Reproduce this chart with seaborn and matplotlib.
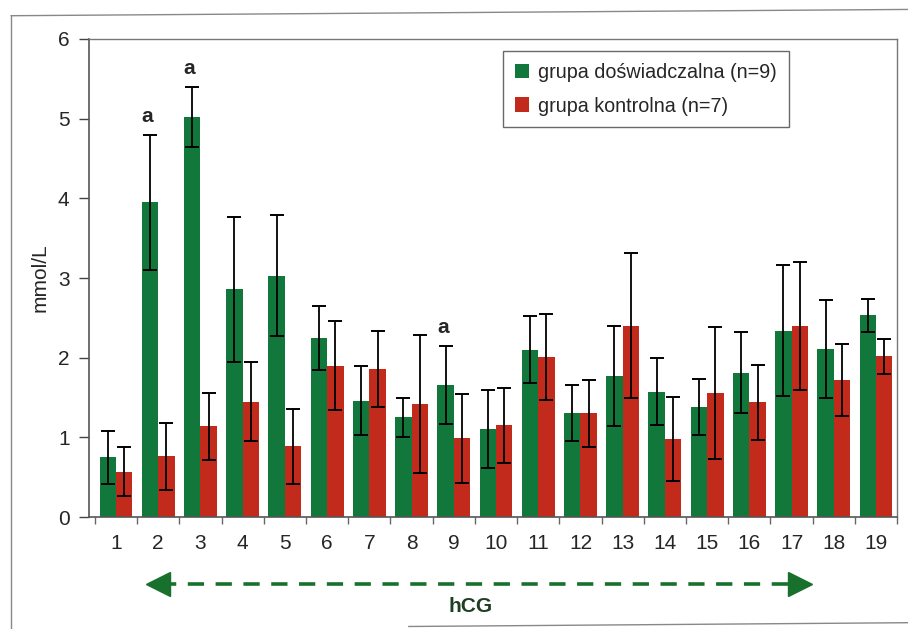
import numpy as np
import pandas as pd
import matplotlib
matplotlib.use("Agg")
import matplotlib.pyplot as plt
import matplotlib.transforms as mtransforms
from matplotlib.lines import Line2D
from matplotlib.patches import Patch
import seaborn as sns

# dane
punkty = [str(i) for i in range(1, 20)]
grupy = ["grupa doświadczalna (n=9)", "grupa kontrolna (n=7)"]
srednia_dosw = [0.75, 3.95, 5.02, 2.86, 3.03, 2.25, 1.46, 1.25, 1.66, 1.11,
                2.10, 1.31, 1.77, 1.57, 1.38, 1.81, 2.34, 2.11, 2.53]
sd_dosw = [0.33, 0.85, 0.38, 0.91, 0.76, 0.40, 0.43, 0.25, 0.49, 0.49,
           0.42, 0.35, 0.63, 0.42, 0.35, 0.51, 0.82, 0.61, 0.21]
srednia_kontr = [0.57, 0.76, 1.14, 1.45, 0.89, 1.90, 1.86, 1.42, 0.99, 1.15,
                 2.01, 1.30, 2.40, 0.98, 1.56, 1.44, 2.40, 1.72, 2.02]
sd_kontr = [0.31, 0.42, 0.42, 0.49, 0.47, 0.56, 0.48, 0.87, 0.56, 0.47,
            0.54, 0.42, 0.91, 0.53, 0.83, 0.47, 0.80, 0.45, 0.22]
istotne = [2, 3, 9]  # punkty oznaczone literą "a"
kolory = ["#12773a", "#c22a1c"]

df = pd.DataFrame({
    "punkt": punkty * 2,
    "grupa": [grupy[0]] * 19 + [grupy[1]] * 19,
    "wartosc": srednia_dosw + srednia_kontr,
})

sns.set_style("white")
plt.rcParams["font.family"] = ["Liberation Sans", "DejaVu Sans"]

fig = plt.figure(figsize=(9.08, 6.29), dpi=100)
ax = fig.add_axes([0.098, 0.178, 0.890, 0.76])

sns.barplot(data=df, x="punkt", y="wartosc", hue="grupa", order=punkty,
            hue_order=grupy, palette=kolory, saturation=1, width=0.78,
            errorbar=None, ax=ax, legend=False, linewidth=0)

# słupki błędów (SD) na środkach słupków
for kont, sd in zip(ax.containers, [sd_dosw, sd_kontr]):
    xs = [p.get_x() + p.get_width() / 2 for p in kont]
    hs = [p.get_height() for p in kont]
    ax.errorbar(xs, hs, yerr=sd, fmt="none", ecolor="black",
                elinewidth=1.3, capsize=5, capthick=1.4, zorder=3)

# litery "a"
bary = ax.containers[0]
for n in istotne:
    p = bary[n - 1]
    ax.annotate("a", (p.get_x() + p.get_width() / 2,
                      srednia_dosw[n - 1] + sd_dosw[n - 1]),
                xytext=(-2, 6), textcoords="offset points",
                ha="center", va="bottom", fontsize=15, fontweight="bold")

ax.set_ylim(0, 6)
ax.set_xlim(-0.64, 18.5)
ax.set_yticks(range(0, 7))
ax.set_xlabel("")
ax.set_ylabel("mmol/L", fontsize=15, labelpad=6)
ax.tick_params(axis="y", which="major", left=True, length=7, width=1,
               color="#444444", labelsize=15, pad=7)
ax.tick_params(axis="x", which="major", bottom=True, length=0,
               labelsize=15, pad=12)
ax.set_xticks(np.arange(-0.5, 19, 1), minor=True)
ax.tick_params(axis="x", which="minor", bottom=True, length=5, width=1,
               color="#666666")
for s in ["left", "bottom"]:
    ax.spines[s].set_color("#555555")
    ax.spines[s].set_linewidth(1.2)
for s in ["top", "right"]:
    ax.spines[s].set_color("#777777")
    ax.spines[s].set_linewidth(1.0)

uchwyty = [Patch(facecolor=c, edgecolor="none") for c in kolory]
leg = ax.legend(uchwyty, grupy, loc="upper left", bbox_to_anchor=(0.512, 0.975),
                borderaxespad=0, fontsize=14.2, frameon=True, fancybox=False,
                edgecolor="#444444", handlelength=0.75, handleheight=0.75,
                handletextpad=0.45, labelspacing=0.75, borderpad=0.6)
leg.get_frame().set_linewidth(1.0)

# strzałka hCG pod osią
trans = mtransforms.blended_transform_factory(ax.transData, fig.transFigure)
x0, x1 = 0.69, 16.5
y_str = 0.0715
ax.plot([x0 + 0.35, x1 - 0.35], [y_str, y_str], transform=trans,
        color="#17702c", lw=2.6, dashes=(4.5, 3.2), clip_on=False)
ax.plot([x0 + 0.3], [y_str], marker="<", markersize=17, color="#17702c",
        transform=trans, clip_on=False)
ax.plot([x1 - 0.3], [y_str], marker=">", markersize=17, color="#17702c",
        transform=trans, clip_on=False)
ax.text(8.4, 0.035, "hCG", transform=trans, ha="center", va="center",
        fontsize=15, fontweight="bold", color="#1d3f24")

# ramka zewnętrzna
fig.add_artist(Line2D([0.012, 0.012], [0.0, 0.975], color="#888888", lw=1.0))
fig.add_artist(Line2D([0.012, 1.0], [0.975, 0.985], color="#888888", lw=1.0))
fig.add_artist(Line2D([0.45, 1.0], [0.004, 0.010], color="#888888", lw=1.0))

fig.savefig("out.png", dpi=100)
